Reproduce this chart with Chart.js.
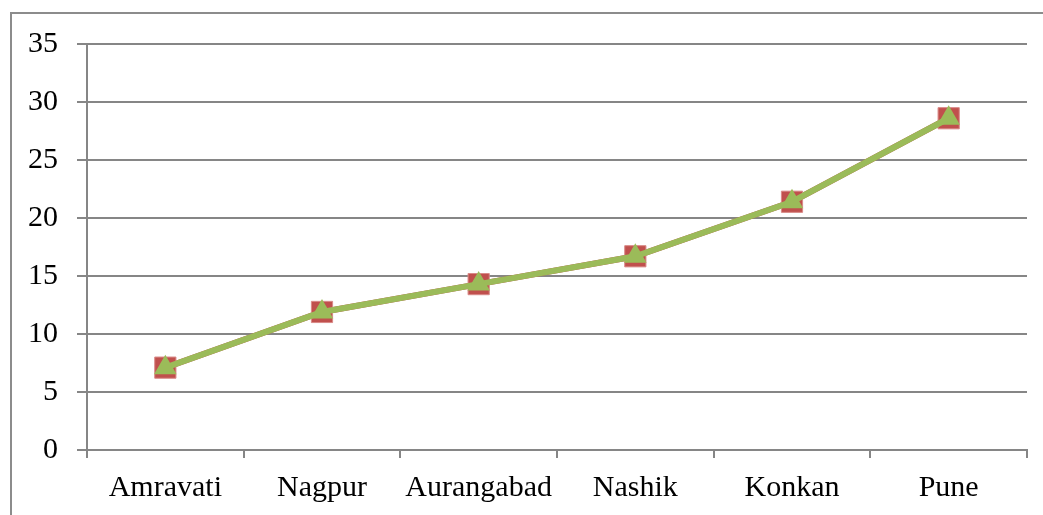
<!DOCTYPE html>
<html>
<head>
<meta charset="utf-8">
<script src="https://cdn.jsdelivr.net/npm/chart.js@4.4.0/dist/chart.umd.min.js"></script>
<style>
  html, body { margin: 0; padding: 0; background: #fff; }
  #wrap { position: relative; width: 1043px; height: 515px; overflow: hidden; }
  #frame { position: absolute; left: 10px; top: 12px; width: 1100px; height: 600px;
           border: 2px solid #8c8c8c; box-sizing: border-box; }
  canvas { position: absolute; left: 0; top: 0; }
</style>
</head>
<body>
<div id="wrap">
  <div id="frame"></div>
  <canvas id="grafico" width="1043" height="515"></canvas>
</div>
<script>
// categorías y valores
const regiones = ['Amravati', 'Nagpur', 'Aurangabad', 'Nashik', 'Konkan', 'Pune'];
const serieRoja = [7.1, 11.9, 14.3, 16.7, 21.4, 28.6];
const serieVerde = [7.1, 11.9, 14.3, 16.7, 21.4, 28.6];
const ticksY = [0, 5, 10, 15, 20, 25, 30, 35];

const fuente = { family: '"Liberation Serif", "Times New Roman", serif', size: 30 };
const gris = '#868686';

const ctx = document.getElementById('grafico').getContext('2d');
const chart = new Chart(ctx, {
    type: 'line',
    data: {
        labels: regiones,
        datasets: [
            {
                label: 'Serie 1',
                data: serieRoja,
                borderColor: '#C0504D',
                backgroundColor: '#C0504D',
                borderWidth: 6,
                pointStyle: 'rect',
                pointRadius: 15,
                pointBorderColor: '#d98a88',
                pointBorderWidth: 1,
                tension: 0,
                order: 2
            },
            {
                label: 'Serie 2',
                data: serieVerde,
                borderColor: '#9BBB59',
                backgroundColor: '#9BBB59',
                borderWidth: 6,
                pointStyle: 'triangle',
                pointRadius: 13,
                pointBorderWidth: 0,
                tension: 0,
                order: 1
            }
        ]
    },
    options: {
        responsive: false,
        animation: false,
        layout: { padding: { left: 0, right: 16, top: 44, bottom: 0 } },
        plugins: {
            legend: { display: false },
            tooltip: { enabled: false }
        },
        scales: {
            x: {
                offset: true,
                grid: {
                    offset: true,
                    drawOnChartArea: false,
                    drawTicks: true,
                    tickLength: 8,
                    color: gris,
                    lineWidth: 2
                },
                border: { color: gris, width: 2 },
                ticks: { color: '#000', font: fuente, padding: 12, maxRotation: 0, autoSkip: false },
                afterFit: (s) => { s.height = 65; }
            },
            y: {
                min: 0,
                max: 35,
                afterBuildTicks: (s) => { s.ticks = ticksY.map(v => ({ value: v })); },
                grid: {
                    color: gris,
                    lineWidth: 2,
                    tickLength: 10
                },
                border: { color: gris, width: 2 },
                ticks: { color: '#000', font: fuente, padding: 19 },
                afterFit: (s) => { s.width = 87; }
            }
        }
    }
});
</script>
</body>
</html>
